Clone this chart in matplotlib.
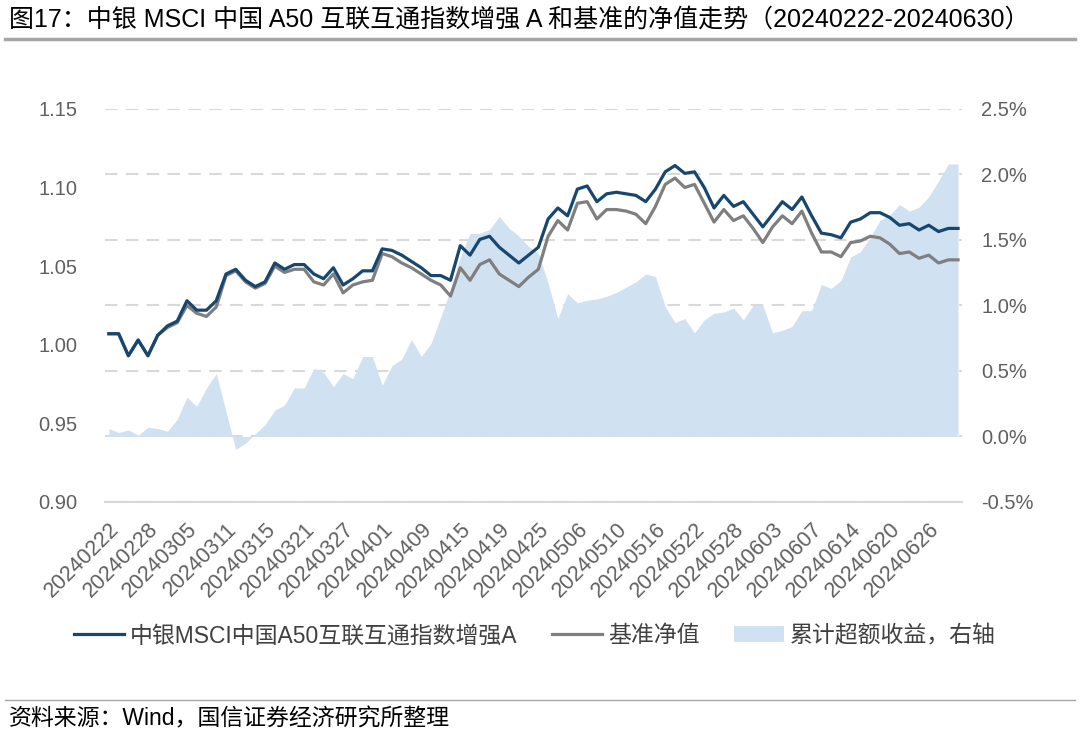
import matplotlib
matplotlib.use("Agg")
import matplotlib.pyplot as plt
from matplotlib.lines import Line2D
import matplotlib.ticker as ticker

#set font, CJK falls back to Noto
plt.rcParams['font.family'] = ['Liberation Sans', 'Noto Sans CJK SC']

    #dates (trading days + quarter end NAV dates)
dates = ["20240222", "20240223", "20240226", "20240227", "20240228", "20240229",
         "20240301", "20240304", "20240305", "20240306", "20240307", "20240308",
         "20240311", "20240312", "20240313", "20240314", "20240315", "20240318",
         "20240319", "20240320", "20240321", "20240322", "20240325", "20240326",
         "20240327", "20240328", "20240329", "20240331", "20240401", "20240402",
         "20240403", "20240408", "20240409", "20240410", "20240411", "20240412",
         "20240415", "20240416", "20240417", "20240418", "20240419", "20240422",
         "20240423", "20240424", "20240425", "20240426", "20240429", "20240430",
         "20240506", "20240507", "20240508", "20240509", "20240510", "20240513",
         "20240514", "20240515", "20240516", "20240517", "20240520", "20240521",
         "20240522", "20240523", "20240524", "20240527", "20240528", "20240529",
         "20240530", "20240531", "20240603", "20240604", "20240605", "20240606",
         "20240607", "20240611", "20240612", "20240613", "20240614", "20240617",
         "20240618", "20240619", "20240620", "20240621", "20240624", "20240625",
         "20240626", "20240627", "20240628", "20240630"]

    #fund NAV
fund_nav = [1.007, 1.007, 0.993, 1.003, 0.993, 1.006, 1.012, 1.015, 1.028, 1.022,
            1.022, 1.028, 1.045, 1.048, 1.041, 1.037, 1.040, 1.052, 1.048, 1.051,
            1.051, 1.045, 1.042, 1.049, 1.038, 1.042, 1.047, 1.047, 1.061, 1.060,
            1.057, 1.053, 1.049, 1.044, 1.044, 1.041, 1.063, 1.057, 1.067, 1.069,
            1.062, 1.057, 1.052, 1.057, 1.062, 1.080, 1.087, 1.082, 1.099, 1.101,
            1.091, 1.096, 1.097, 1.096, 1.095, 1.091, 1.099, 1.110, 1.114, 1.109,
            1.110, 1.100, 1.087, 1.095, 1.088, 1.091, 1.083, 1.075, 1.083, 1.091,
            1.086, 1.094, 1.082, 1.071, 1.070, 1.068, 1.078, 1.080, 1.084, 1.084,
            1.081, 1.076, 1.077, 1.073, 1.076, 1.072, 1.074, 1.074]

    #benchmark NAV
bench_nav = [1.007, 1.007, 0.993, 1.003, 0.993, 1.006, 1.011, 1.014, 1.025, 1.020,
             1.018, 1.024, 1.044, 1.047, 1.040, 1.036, 1.039, 1.050, 1.046, 1.048,
             1.048, 1.040, 1.038, 1.045, 1.033, 1.038, 1.040, 1.041, 1.058, 1.056,
             1.052, 1.049, 1.045, 1.041, 1.038, 1.031, 1.049, 1.041, 1.051, 1.054,
             1.045, 1.041, 1.037, 1.043, 1.048, 1.069, 1.079, 1.073, 1.090, 1.091,
             1.080, 1.086, 1.086, 1.085, 1.083, 1.077, 1.088, 1.102, 1.106, 1.100,
             1.102, 1.090, 1.078, 1.086, 1.079, 1.082, 1.074, 1.065, 1.075, 1.082,
             1.077, 1.085, 1.071, 1.059, 1.059, 1.056, 1.065, 1.066, 1.069, 1.068,
             1.064, 1.058, 1.059, 1.055, 1.057, 1.052, 1.054, 1.054]

    #cumulative excess return (%), right axis
excess = [0.06, 0.03, 0.05, 0.01, 0.07, 0.06, 0.04, 0.13, 0.30, 0.23,
          0.37, 0.48, 0.19, -0.10, -0.05, 0.02, 0.09, 0.20, 0.24, 0.37,
          0.37, 0.52, 0.49, 0.38, 0.48, 0.44, 0.61, 0.61, 0.39, 0.54,
          0.59, 0.74, 0.61, 0.71, 0.91, 1.12, 1.37, 1.55, 1.55, 1.58,
          1.68, 1.59, 1.53, 1.45, 1.40, 1.17, 0.90, 1.09, 1.02, 1.04,
          1.05, 1.07, 1.10, 1.14, 1.18, 1.24, 1.22, 0.99, 0.87, 0.90,
          0.79, 0.89, 0.94, 0.95, 0.98, 0.89, 1.00, 1.00, 0.79, 0.81,
          0.84, 0.96, 0.96, 1.16, 1.13, 1.19, 1.37, 1.41, 1.52, 1.65,
          1.69, 1.77, 1.72, 1.75, 1.83, 1.95, 2.08, 2.08]

left_ticks = [0.90, 0.95, 1.00, 1.05, 1.10, 1.15]
right_ticks = [-0.5, 0.0, 0.5, 1.0, 1.5, 2.0, 2.5]

label_color = "#606060"
blue = "#17466F"
gray = "#7F7F7F"
area_color = "#D0E1F2"

x = list(range(len(dates)))

fig = plt.figure(figsize=(10.8, 7.36), dpi=100)
ax = fig.add_axes([0.0972, 0.318, 0.7935, 0.534])
ax2 = ax.twinx()

    #excess area on the right axis, behind the lines
ax2.fill_between(x, 0, excess, color=area_color, linewidth=0, zorder=2,
                 label="累计超额收益，右轴")
ax2.set_ylim(-0.5, 2.5)
ax2.set_yticks(right_ticks)
ax2.yaxis.set_major_formatter(ticker.FuncFormatter(lambda v, p: "%.1f%%" % v))
ax2.grid(axis='y', color="#D9D9D9", linestyle=(0, (6, 4)), linewidth=1.5, zorder=1)
ax2.set_axisbelow(True)

    #put the line axes on top
ax.set_zorder(ax2.get_zorder() + 1)
ax.patch.set_visible(False)

ax.plot(x, bench_nav, color=gray, lw=2.3, label="基准净值", zorder=3)
ax.plot(x, fund_nav, color=blue, lw=2.3, label="中银MSCI中国A50互联互通指数增强A", zorder=4)
ax.set_ylim(0.90, 1.15)
ax.set_yticks(left_ticks)
ax.yaxis.set_major_formatter(ticker.FormatStrFormatter('%.2f'))
ax.set_xlim(-0.4, 87.4)

ax.set_xticks(x[::4])
ax.set_xticklabels(dates[::4], rotation=45, ha='right', rotation_mode='anchor')

for a in (ax, ax2):
    for s in a.spines.values():
        s.set_visible(False)
    a.tick_params(axis='both', length=0, labelsize=14.5, labelcolor=label_color)
ax.tick_params(axis='x', labelsize=15.5)
ax.spines['bottom'].set_visible(True)
ax.spines['bottom'].set_color("#D9D9D9")
ax.spines['bottom'].set_linewidth(1.5)
ax.tick_params(axis='y', pad=20)
ax.tick_params(axis='x', pad=12)
ax2.tick_params(axis='y', pad=14)

    #legend below the chart
h1, l1 = ax.get_legend_handles_labels()
h2, l2 = ax2.get_legend_handles_labels()
handles = [h1[1], h1[0], h2[0]]
labels = [l1[1], l1[0], l2[0]]
leg = fig.legend(handles, labels, loc='center', bbox_to_anchor=(0.495, 0.136), ncol=3,
                 frameon=False, fontsize=16.5, handlelength=2.2, columnspacing=1.5,
                 handletextpad=0.25)
for t in leg.get_texts():
    t.set_color("#404040")

    #title, separator lines and source
fig.text(0.008, 1 - 20 / 736, "图17：中银 MSCI 中国 A50 互联互通指数增强 A 和基准的净值走势（20240222-20240630）",
         fontsize=18, va='center', ha='left', color="black")
fig.add_artist(Line2D([0.005, 0.995], [1 - 39 / 736, 1 - 39 / 736], transform=fig.transFigure,
                      color="#A6A6A6", lw=2.5))
fig.add_artist(Line2D([0.005, 0.995], [1 - 700 / 736, 1 - 700 / 736], transform=fig.transFigure,
                      color="#A6A6A6", lw=1))
fig.text(0.008, 1 - 719 / 736, "资料来源：Wind，国信证券经济研究所整理",
         fontsize=16.5, va='center', ha='left', color="black")

fig.savefig("out.png", dpi=100)
